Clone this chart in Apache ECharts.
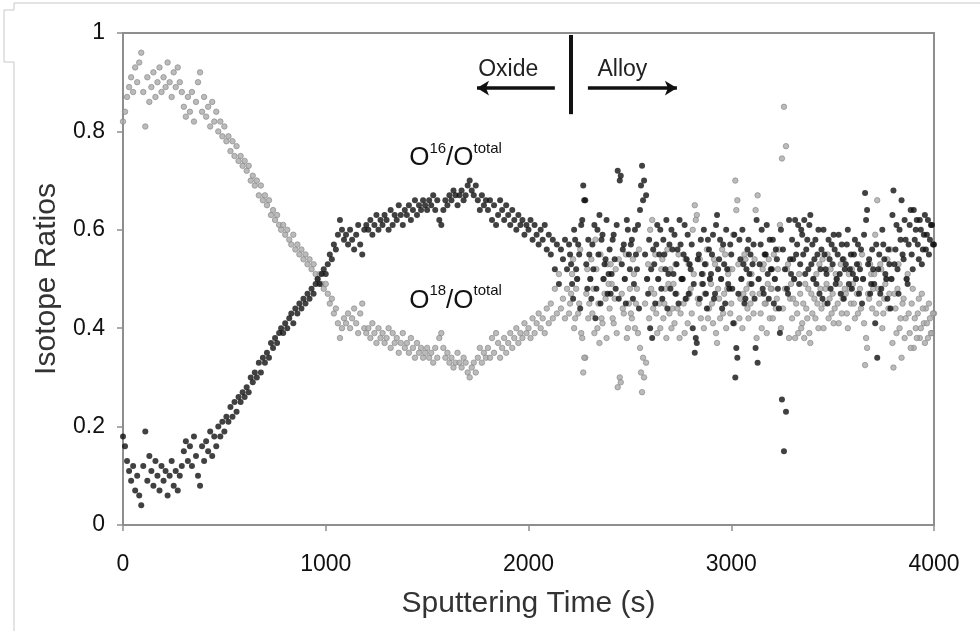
<!DOCTYPE html>
<html><head><meta charset="utf-8">
<script src="https://cdn.jsdelivr.net/npm/echarts@6/dist/echarts.min.js"></script>
<style>html,body{margin:0;padding:0;background:#fff}#c{width:980px;height:631px}</style>
</head><body><div id="c"></div>
<script>
// main sampling: one reading every 10 s starting at 0 s
const timeStart = 0;
const timeStep = 10;
// extra readings in the alloy/noisy part, offset by 5 s (2205 s ... 3995 s)
const midStart = 2205;
const midStep = 10;

// O16 / O total (black)
const o16 = [
0.18,0.16,0.13,0.11,0.09,0.12,0.07,0.10,0.06,0.04,
0.12,0.19,0.09,0.14,0.11,0.08,0.13,0.10,0.07,0.12,
0.09,0.11,0.06,0.10,0.13,0.08,0.11,0.07,0.10,0.12,
0.15,0.17,0.13,0.16,0.12,0.18,0.14,0.10,0.08,0.16,
0.13,0.17,0.15,0.19,0.14,0.18,0.16,0.20,0.18,0.21,
0.19,0.22,0.21,0.24,0.22,0.25,0.23,0.26,0.25,0.27,
0.26,0.28,0.27,0.30,0.29,0.31,0.30,0.33,0.31,0.34,
0.33,0.35,0.34,0.37,0.36,0.38,0.37,0.39,0.40,0.39,
0.41,0.40,0.42,0.43,0.41,0.44,0.43,0.45,0.44,0.46,
0.45,0.47,0.46,0.48,0.47,0.49,0.50,0.49,0.51,0.52,
0.51,0.53,0.55,0.54,0.57,0.56,0.59,0.62,0.60,0.58,
0.59,0.57,0.60,0.58,0.56,0.59,0.61,0.57,0.55,0.60,
0.61,0.60,0.62,0.59,0.61,0.63,0.60,0.62,0.61,0.63,
0.62,0.60,0.64,0.61,0.63,0.62,0.65,0.63,0.61,0.64,
0.63,0.65,0.62,0.64,0.66,0.63,0.65,0.64,0.66,0.65,
0.64,0.66,0.65,0.67,0.64,0.66,0.62,0.61,0.64,0.66,
0.65,0.67,0.66,0.68,0.67,0.65,0.67,0.68,0.66,0.67,
0.69,0.70,0.68,0.67,0.69,0.66,0.64,0.67,0.65,0.66,
0.64,0.66,0.62,0.65,0.61,0.63,0.66,0.64,0.62,0.65,
0.63,0.61,0.64,0.62,0.60,0.63,0.61,0.62,0.59,0.61,
0.60,0.62,0.58,0.61,0.59,0.57,0.60,0.58,0.61,0.56,
0.59,0.55,0.58,0.52,0.57,0.49,0.56,0.54,0.58,0.52,
0.57,0.53,0.46,0.58,0.50,0.55,0.61,0.69,0.66,0.48,
0.55,0.46,0.52,0.42,0.60,0.63,0.58,0.50,0.54,0.47,
0.56,0.51,0.59,0.48,0.72,0.70,0.53,0.57,0.45,0.60,
0.52,0.58,0.49,0.55,0.61,0.64,0.73,0.70,0.67,0.47,
0.40,0.38,0.53,0.57,0.50,0.60,0.46,0.55,0.62,0.51,
0.48,0.56,0.59,0.53,0.45,0.57,0.50,0.61,0.54,0.47,
0.52,0.40,0.35,0.37,0.55,0.58,0.49,0.53,0.44,0.56,
0.51,0.59,0.47,0.63,0.54,0.50,0.57,0.45,0.52,0.48,
0.55,0.41,0.30,0.34,0.58,0.50,0.53,0.46,0.56,0.51,
0.49,0.57,0.36,0.33,0.53,0.60,0.47,0.55,0.51,0.58,
0.52,0.45,0.56,0.48,0.39,0.255,0.15,0.23,0.47,0.54,
0.58,0.50,0.55,0.61,0.53,0.59,0.62,0.56,0.52,0.63,
0.57,0.54,0.49,0.60,0.52,0.46,0.55,0.51,0.58,0.48,
0.53,0.56,0.50,0.59,0.47,0.54,0.52,0.57,0.49,0.55,
0.51,0.58,0.53,0.47,0.56,0.50,0.675,0.64,0.54,0.49,
0.52,0.41,0.34,0.55,0.48,0.57,0.51,0.46,0.53,0.50,
0.68,0.56,0.52,0.60,0.66,0.54,0.58,0.49,0.61,0.55,
0.64,0.60,0.57,0.62,0.53,0.59,0.56,0.62,0.58,0.61,
0.57
];
const o16Mid = [
0.55,0.49,0.60,0.52,0.57,0.44,0.62,0.66,0.53,0.58,
0.50,0.57,0.61,0.48,0.55,0.45,0.59,0.53,0.62,0.51,
0.47,0.58,0.54,0.61,0.46,0.71,0.56,0.50,0.62,0.55,
0.57,0.46,0.60,0.52,0.44,0.69,0.66,0.55,0.50,0.58,
0.52,0.56,0.45,0.61,0.55,0.48,0.58,0.52,0.44,0.57,
0.60,0.51,0.47,0.56,0.62,0.50,0.55,0.46,0.59,0.53,
0.57,0.49,0.38,0.54,0.46,0.51,0.60,0.47,0.58,0.50,
0.55,0.46,0.61,0.52,0.58,0.44,0.53,0.60,0.49,0.57,
0.48,0.59,0.36,0.47,0.54,0.60,0.45,0.52,0.58,0.55,
0.53,0.46,0.62,0.50,0.57,0.48,0.55,0.61,0.46,0.52,
0.58,0.50,0.54,0.44,0.60,0.56,0.52,0.48,0.62,0.51,
0.54,0.62,0.57,0.49,0.60,0.55,0.51,0.58,0.61,0.53,
0.50,0.58,0.55,0.47,0.56,0.60,0.52,0.45,0.54,0.57,
0.59,0.49,0.55,0.51,0.57,0.46,0.53,0.60,0.52,0.48,
0.55,0.50,0.57,0.52,0.45,0.59,0.62,0.53,0.47,0.56,
0.49,0.57,0.52,0.47,0.60,0.54,0.50,0.56,0.44,0.63,
0.53,0.61,0.47,0.58,0.55,0.62,0.50,0.57,0.64,0.52,
0.58,0.62,0.54,0.60,0.56,0.63,0.59,0.55,0.61,0.57
];

// O18 / O total (grey)
const o18 = [
0.82,0.84,0.87,0.89,0.91,0.88,0.93,0.90,0.94,0.96,
0.88,0.81,0.91,0.86,0.89,0.92,0.87,0.90,0.93,0.88,
0.91,0.89,0.94,0.90,0.87,0.92,0.89,0.93,0.90,0.88,
0.85,0.83,0.87,0.84,0.88,0.82,0.86,0.90,0.92,0.84,
0.87,0.83,0.85,0.81,0.86,0.82,0.84,0.80,0.82,0.79,
0.81,0.78,0.79,0.76,0.78,0.75,0.77,0.74,0.75,0.73,
0.74,0.72,0.73,0.70,0.71,0.69,0.70,0.67,0.69,0.66,
0.67,0.65,0.66,0.63,0.64,0.62,0.63,0.61,0.60,0.61,
0.59,0.60,0.58,0.57,0.59,0.56,0.57,0.55,0.56,0.54,
0.55,0.53,0.54,0.52,0.53,0.51,0.50,0.51,0.49,0.48,
0.49,0.47,0.45,0.46,0.43,0.44,0.41,0.38,0.40,0.42,
0.41,0.43,0.40,0.42,0.44,0.41,0.39,0.43,0.45,0.40,
0.39,0.40,0.38,0.41,0.39,0.37,0.40,0.38,0.39,0.37,
0.38,0.40,0.36,0.39,0.37,0.38,0.35,0.37,0.39,0.36,
0.37,0.35,0.38,0.36,0.34,0.37,0.35,0.36,0.34,0.35,
0.36,0.34,0.35,0.33,0.36,0.34,0.38,0.39,0.36,0.34,
0.35,0.33,0.34,0.32,0.33,0.35,0.33,0.32,0.34,0.33,
0.31,0.30,0.32,0.33,0.31,0.34,0.36,0.33,0.35,0.34,
0.36,0.34,0.38,0.35,0.39,0.37,0.34,0.36,0.38,0.35,
0.37,0.39,0.36,0.38,0.40,0.37,0.39,0.38,0.41,0.39,
0.40,0.38,0.42,0.39,0.41,0.43,0.40,0.42,0.39,0.44,
0.41,0.45,0.42,0.48,0.43,0.51,0.44,0.46,0.42,0.48,
0.43,0.47,0.54,0.42,0.50,0.45,0.39,0.31,0.34,0.52,
0.45,0.54,0.48,0.58,0.40,0.37,0.42,0.50,0.46,0.53,
0.44,0.49,0.41,0.52,0.28,0.30,0.47,0.43,0.55,0.40,
0.48,0.42,0.51,0.45,0.39,0.36,0.27,0.30,0.33,0.53,
0.60,0.62,0.47,0.43,0.50,0.40,0.54,0.45,0.38,0.49,
0.52,0.44,0.41,0.47,0.55,0.43,0.50,0.39,0.46,0.53,
0.48,0.60,0.65,0.63,0.45,0.42,0.51,0.47,0.56,0.44,
0.49,0.41,0.53,0.37,0.46,0.50,0.43,0.55,0.48,0.52,
0.45,0.59,0.70,0.66,0.42,0.50,0.47,0.54,0.44,0.49,
0.51,0.43,0.64,0.67,0.47,0.40,0.53,0.45,0.49,0.42,
0.48,0.55,0.44,0.52,0.61,0.745,0.85,0.77,0.53,0.46,
0.42,0.50,0.45,0.39,0.47,0.41,0.38,0.44,0.48,0.37,
0.43,0.46,0.51,0.40,0.48,0.54,0.45,0.49,0.42,0.52,
0.47,0.44,0.50,0.41,0.53,0.46,0.48,0.43,0.51,0.45,
0.49,0.42,0.47,0.53,0.44,0.50,0.325,0.36,0.46,0.51,
0.48,0.59,0.66,0.45,0.52,0.43,0.49,0.54,0.47,0.50,
0.32,0.44,0.48,0.40,0.34,0.46,0.42,0.51,0.39,0.45,
0.36,0.40,0.43,0.38,0.47,0.41,0.44,0.38,0.42,0.39,
0.43
];
const o18Mid = [
0.45,0.51,0.40,0.48,0.43,0.56,0.38,0.34,0.47,0.42,
0.50,0.43,0.39,0.52,0.45,0.55,0.41,0.47,0.38,0.49,
0.53,0.42,0.46,0.39,0.54,0.29,0.44,0.50,0.38,0.45,
0.43,0.54,0.40,0.48,0.56,0.31,0.34,0.45,0.50,0.42,
0.48,0.44,0.55,0.39,0.45,0.52,0.42,0.48,0.56,0.43,
0.40,0.49,0.53,0.44,0.38,0.50,0.45,0.54,0.41,0.47,
0.43,0.51,0.62,0.46,0.54,0.49,0.40,0.53,0.42,0.50,
0.45,0.54,0.39,0.48,0.42,0.56,0.47,0.40,0.51,0.43,
0.52,0.41,0.64,0.53,0.46,0.40,0.55,0.48,0.42,0.45,
0.47,0.54,0.38,0.50,0.43,0.52,0.45,0.39,0.54,0.48,
0.42,0.50,0.46,0.56,0.40,0.44,0.48,0.52,0.38,0.49,
0.46,0.38,0.43,0.51,0.40,0.45,0.49,0.42,0.39,0.47,
0.50,0.42,0.45,0.53,0.44,0.40,0.48,0.55,0.46,0.43,
0.41,0.51,0.45,0.49,0.43,0.54,0.47,0.40,0.48,0.52,
0.45,0.50,0.43,0.48,0.55,0.41,0.38,0.47,0.53,0.44,
0.51,0.43,0.48,0.53,0.40,0.46,0.50,0.44,0.56,0.37,
0.47,0.39,0.53,0.42,0.45,0.38,0.50,0.43,0.36,0.48,
0.42,0.38,0.46,0.40,0.44,0.37,0.41,0.45,0.39,0.43
];

const xTicks = [0, 1000, 2000, 3000, 4000];
const yTicks = [0, 0.2, 0.4, 0.6, 0.8, 1];

// annotations (data coordinates)
const dividerTime = 2210;
const dividerRange = [0.996, 0.835];
const oxideArrow = [[2130, 0.888], [1746, 0.888]];
const alloyArrow = [[2293, 0.888], [2732, 0.888]];
const oxideText = [1900, 0.926];
const alloyText = [2463, 0.926];
const o16LabelPos = [1640, 0.75];
const o18LabelPos = [1640, 0.46];

const toPairs = (arr, start, step) => arr.map((v, i) => [start + i * step, v]);

const chart = echarts.init(document.getElementById('c'), null, {renderer: 'canvas'});
const txt = '#111';
const axisGray = '#8e8e8e';
const ff = 'Liberation Sans, Arial, sans-serif';

const ratioRich = {
  b: {fontSize: 26, color: '#111', fontFamily: ff, lineHeight: 30, verticalAlign: 'bottom'},
  s: {fontSize: 15, color: '#111', fontFamily: ff, lineHeight: 30, verticalAlign: 'top', padding: [0, 0, 11, 0]}
};

chart.setOption({
  animation: false,
  backgroundColor: '#fff',
  grid: {left: 123, right: 46, top: 33, bottom: 106, show: true, borderColor: axisGray, borderWidth: 2, backgroundColor: 'transparent'},
  xAxis: {
    type: 'value', min: xTicks[0], max: xTicks[xTicks.length - 1], interval: 1000,
    axisLine: {show: true, lineStyle: {color: axisGray, width: 2}},
    axisTick: {show: true, length: 6, lineStyle: {color: axisGray, width: 1.5}},
    splitLine: {show: false},
    axisLabel: {fontSize: 23, color: txt, fontFamily: ff, margin: 28, formatter: v => String(v)},
    name: 'Sputtering Time (s)', nameLocation: 'middle', nameGap: 64,
    nameTextStyle: {fontSize: 30, color: '#333', fontFamily: ff}
  },
  yAxis: {
    type: 'value', min: yTicks[0], max: yTicks[yTicks.length - 1], interval: 0.2,
    axisLine: {show: true, lineStyle: {color: axisGray, width: 2}},
    axisTick: {show: true, length: 6, lineStyle: {color: axisGray, width: 1.5}},
    splitLine: {show: false},
    axisLabel: {fontSize: 23, color: txt, fontFamily: ff, margin: 18},
    name: 'Isotope Ratios', nameLocation: 'middle', nameGap: 61,
    nameTextStyle: {fontSize: 30, color: '#333', fontFamily: ff}
  },
  graphic: [
    {type: 'polyline', silent: true, shape: {points: [[14, 631], [14, 62], [4, 62], [4, 10], [14, 10], [14, 3], [980, 3]]}, style: {stroke: '#c8c8c8', lineWidth: 1, fill: null}}
  ],
  series: [
    {
      type: 'scatter', name: 'O18/Ototal', data: toPairs(o18, timeStart, timeStep).concat(toPairs(o18Mid, midStart, midStep)),
      symbol: 'circle', symbolSize: 5.5,
      itemStyle: {color: '#aaaaaa', borderColor: '#848484', borderWidth: 0.8}, z: 2, silent: true,
      markPoint: {
        symbol: 'circle', symbolSize: 0, silent: true,
        label: {show: true, position: 'inside', rich: ratioRich},
        data: [{coord: o18LabelPos, value: 0, label: {formatter: '{b|O}{s|18}{b|/O}{s|total}'}}]
      }
    },
    {
      type: 'scatter', name: 'O16/Ototal', data: toPairs(o16, timeStart, timeStep).concat(toPairs(o16Mid, midStart, midStep)),
      symbol: 'circle', symbolSize: 6,
      itemStyle: {color: '#111'}, z: 3, silent: true,
      markPoint: {
        symbol: 'circle', symbolSize: 0, silent: true,
        label: {show: true, position: 'inside', rich: ratioRich},
        data: [
          {coord: o16LabelPos, value: 0, label: {formatter: '{b|O}{s|16}{b|/O}{s|total}'}},
          {coord: oxideText, value: 0, label: {formatter: 'Oxide', fontSize: 23, color: '#222', fontFamily: ff}},
          {coord: alloyText, value: 0, label: {formatter: 'Alloy', fontSize: 23, color: '#222', fontFamily: ff}}
        ]
      },
      markLine: {
        silent: true, animation: false, symbol: ['none', 'none'],
        label: {show: false},
        lineStyle: {color: '#111', width: 3.5, type: 'solid'},
        data: [
          [{coord: [dividerTime, dividerRange[0]], lineStyle: {width: 4}}, {coord: [dividerTime, dividerRange[1]]}],
          [{coord: oxideArrow[0], symbol: 'none'}, {coord: oxideArrow[1], symbol: 'arrow', symbolSize: [11, 12]}],
          [{coord: alloyArrow[0], symbol: 'none'}, {coord: alloyArrow[1], symbol: 'arrow', symbolSize: [11, 12]}]
        ]
      }
    }
  ]
});
</script></body></html>
